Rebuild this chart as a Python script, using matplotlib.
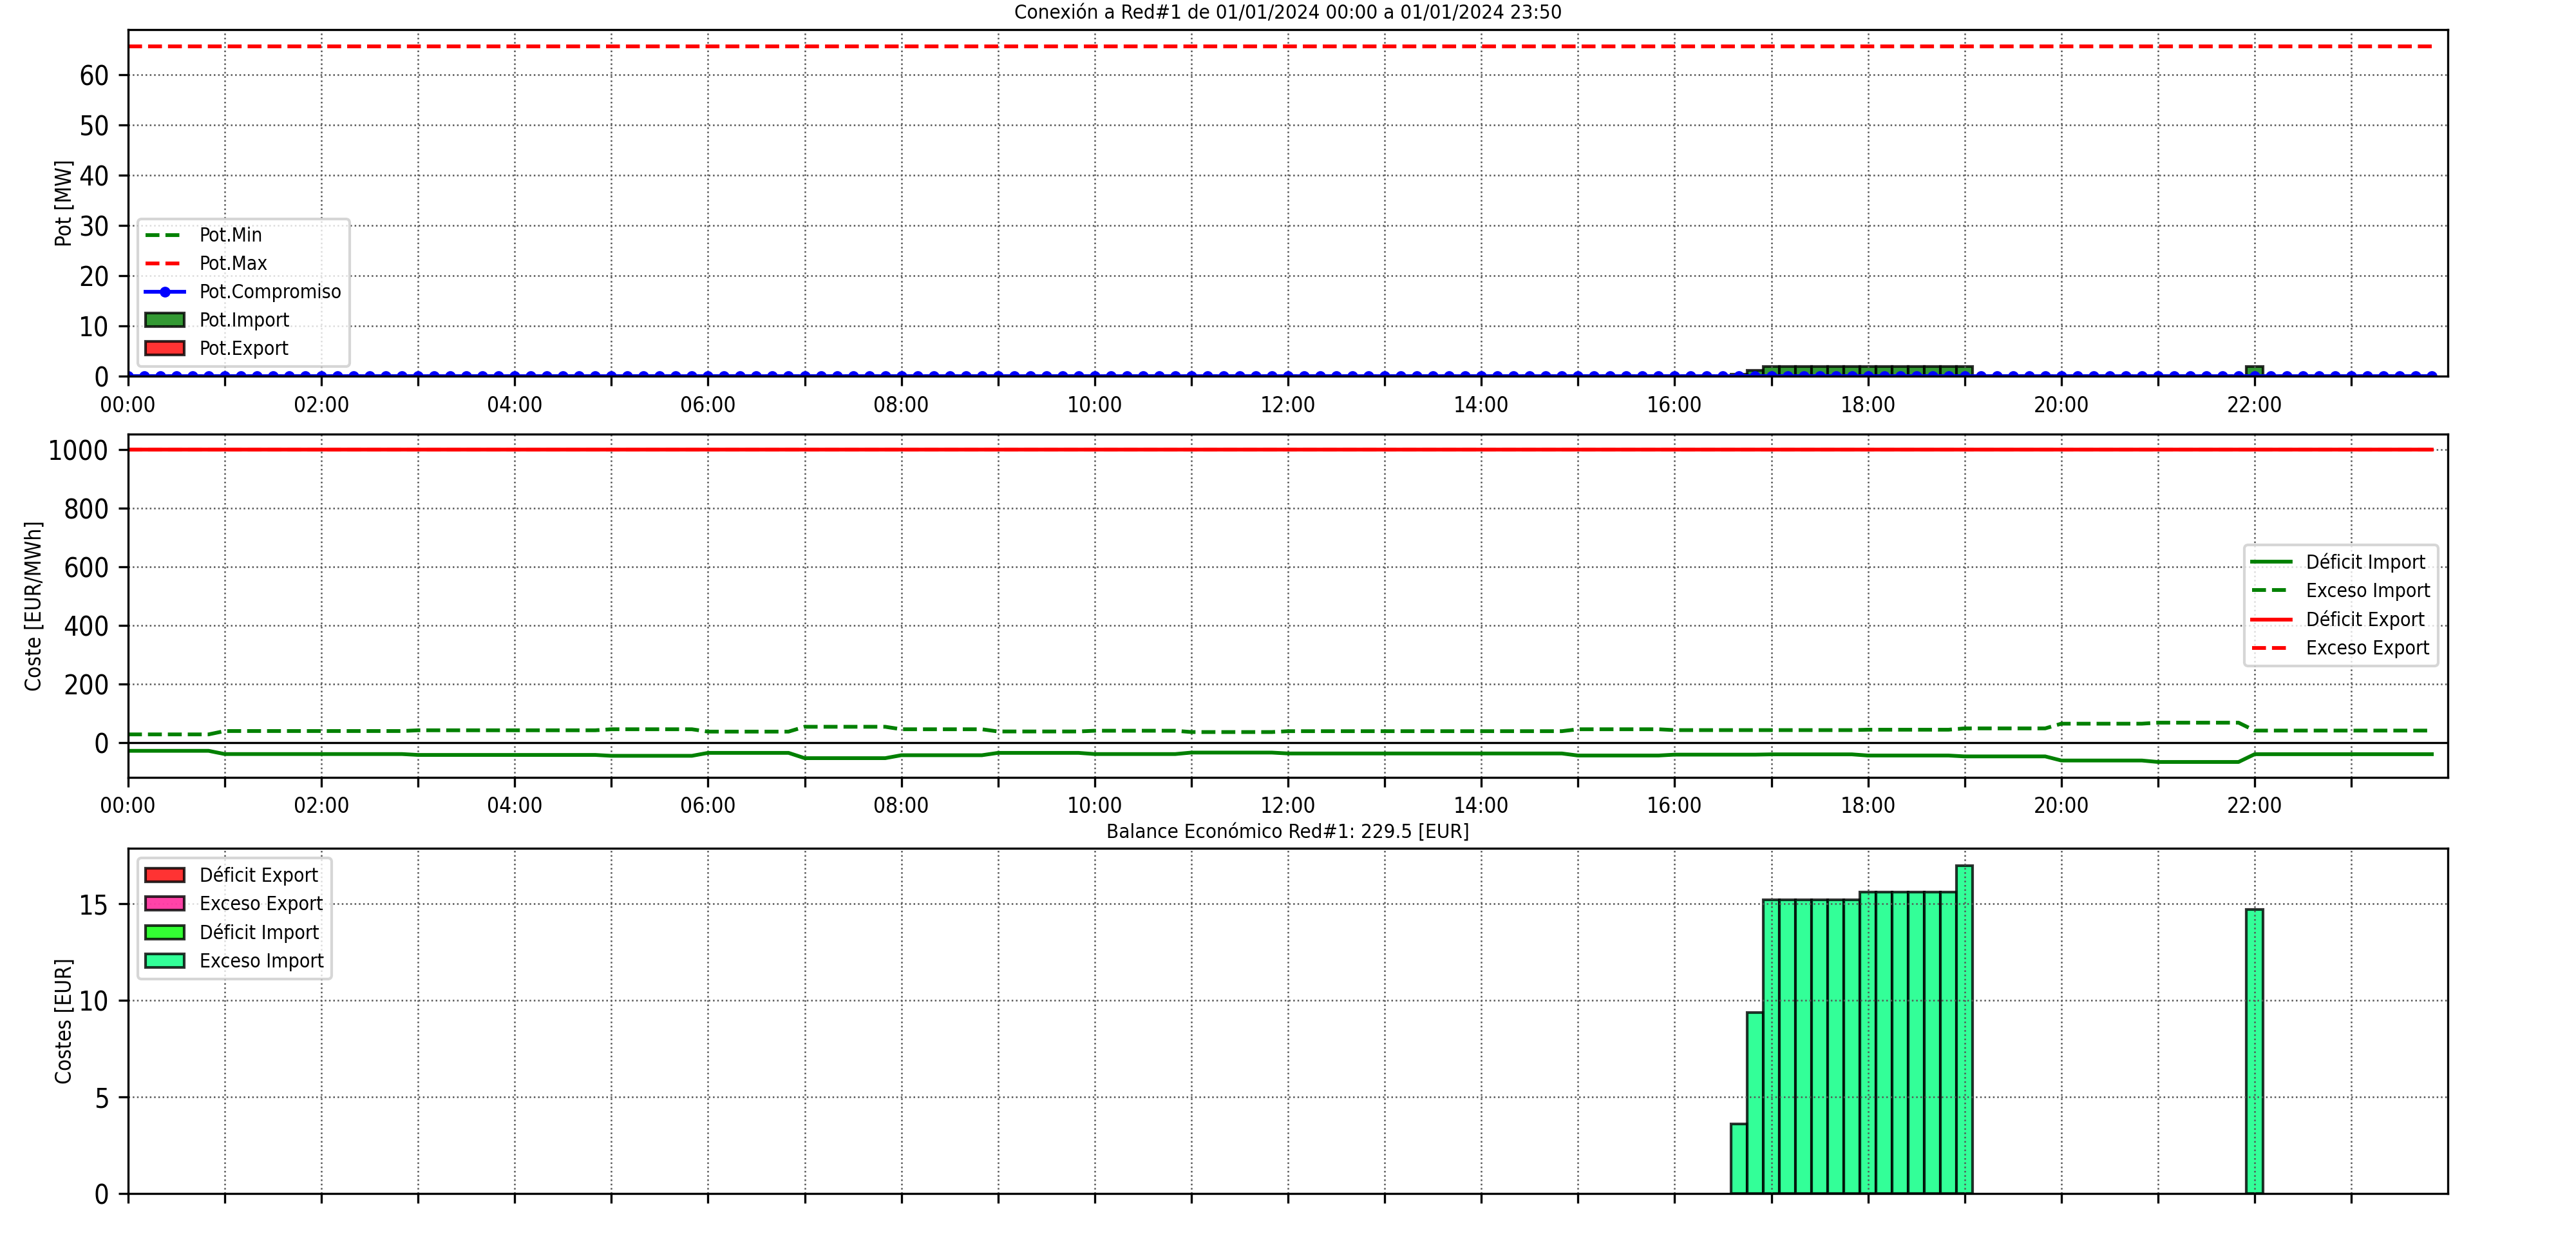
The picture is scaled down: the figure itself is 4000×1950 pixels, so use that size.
import numpy as np
import pandas as pd
import matplotlib
matplotlib.use('Agg')
import matplotlib.pyplot as plt
import matplotlib.dates as mdates
from matplotlib.patches import Patch
from matplotlib.ticker import MultipleLocator, FixedLocator

plt.rcParams['font.family'] = 'DejaVu Sans'
plt.rcParams['font.stretch'] = 'condensed'

# 10 minute steps for the whole day
day = '2024-01-01'
times = pd.date_range(day + ' 00:00', day + ' 23:50', freq='10min')

# --- power (MW) ---
pot_min_val = 0.0
pot_max_val = 65.7
pot_compromiso_val = 0.0
pot_import_times = ['16:40', '16:50', '17:00', '17:10', '17:20', '17:30', '17:40', '17:50',
                    '18:00', '18:10', '18:20', '18:30', '18:40', '18:50', '19:00', '22:00']
pot_import_vals = [0.45, 1.2, 2.0, 2.0, 2.0, 2.0, 2.0, 2.0,
                   2.0, 2.0, 2.0, 2.0, 2.0, 2.0, 2.0, 2.0]
pot_export_times = []
pot_export_vals = []

# --- hourly prices (EUR/MWh) ---
deficit_import_h = [-27, -38, -38, -41, -41, -44, -34, -52, -42, -34, -38, -33,
                    -36, -36, -36, -43, -40, -39, -43, -46, -60, -65, -38.5, -38.5]
exceso_import_h = [29, 40.5, 40.5, 43, 43, 46.5, 38.5, 55, 46.5, 39, 41.5, 37,
                   40, 40, 40, 46.5, 43.6, 43.6, 45, 49.5, 65.5, 69, 42, 42]
deficit_export_h = [1000] * 24
exceso_export_h = [1000] * 24

# --- costs (EUR) ---
coste_times = ['16:40', '16:50', '17:00', '17:10', '17:20', '17:30', '17:40', '17:50',
               '18:00', '18:10', '18:20', '18:30', '18:40', '18:50', '19:00', '22:00']
exceso_import_coste = [3.6, 9.35, 15.2, 15.2, 15.2, 15.2, 15.2, 15.2,
                       15.6, 15.6, 15.6, 15.6, 15.6, 15.6, 16.95, 14.7]
balance = 229.5

hour_ticks = ['%02d:00' % h for h in range(24)]


def to_dt(lst):
    return pd.to_datetime([day + ' ' + t for t in lst])


def hourly_to_10min(vals):
    # each hourly price holds for the six 10-minute steps of that hour
    return np.repeat(np.array(vals, dtype=float), 6)


width = 1.0 / 144  # 10 minutes in days
x0 = pd.Timestamp(day + ' 00:00')
x1 = x0 + pd.Timedelta(days=1)
major_pos = mdates.date2num(to_dt(hour_ticks[::2]))
minor_pos = mdates.date2num(to_dt(hour_ticks))


def format_time_axis(ax, labels=True):
    ax.set_xlim(x0, x1)
    ax.xaxis.set_major_locator(FixedLocator(major_pos))
    ax.xaxis.set_minor_locator(FixedLocator(minor_pos))
    ax.xaxis.set_major_formatter(mdates.DateFormatter('%H:%M'))
    ax.tick_params(axis='x', which='both', length=3.5, width=0.8, labelsize=8, labelbottom=labels)
    ax.tick_params(axis='y', labelsize=10)
    ax.grid(True, which='both', linestyle=':', color='#555555', linewidth=0.6)


def bar_patch(color, label):
    return Patch(facecolor=color, edgecolor='black', alpha=0.8, label=label)


fig = plt.figure(figsize=(4000 / 300, 1950 / 300), dpi=300)

# top panel: power
ax1 = fig.add_axes([0.0497, 0.7003, 0.9006, 0.2761])
l1, = ax1.plot(times, np.full(len(times), pot_min_val), color='green', linestyle='--', linewidth=1.4, label='Pot.Min')
l2, = ax1.plot(times, np.full(len(times), pot_max_val), color='red', linestyle='--', linewidth=1.4, label='Pot.Max')
l3, = ax1.plot(times, np.full(len(times), pot_compromiso_val), color='blue', marker='o', markersize=3,
               linewidth=1.4, label='Pot.Compromiso')
ax1.bar(to_dt(pot_import_times), pot_import_vals, width=width, color='green', alpha=0.8, edgecolor='black')
if pot_export_vals:
    ax1.bar(to_dt(pot_export_times), pot_export_vals, width=width, color='red', alpha=0.8, edgecolor='black')
ax1.set_ylim(0, 69)
ax1.yaxis.set_major_locator(MultipleLocator(10))
ax1.set_ylabel('Pot [MW]', fontsize=8, labelpad=1)
ax1.set_title('Conexión a Red#1 de 01/01/2024 00:00 a 01/01/2024 23:50', fontsize=7.5, pad=4)
format_time_axis(ax1)
ax1.legend(handles=[l1, l2, l3, bar_patch('green', 'Pot.Import'), bar_patch('red', 'Pot.Export')],
           loc='lower left', fontsize=7.2)

# middle panel: prices
ax2 = fig.add_axes([0.0497, 0.3809, 0.9006, 0.2736])
ax2.plot(times, hourly_to_10min(deficit_import_h), color='green', linestyle='-', linewidth=1.4, label='Déficit Import')
ax2.plot(times, hourly_to_10min(exceso_import_h), color='green', linestyle='--', linewidth=1.4, label='Exceso Import')
ax2.plot(times, hourly_to_10min(deficit_export_h), color='red', linestyle='-', linewidth=1.4, label='Déficit Export')
ax2.plot(times, hourly_to_10min(exceso_export_h), color='red', linestyle='--', linewidth=1.4, label='Exceso Export')
ax2.axhline(0, color='black', linewidth=0.8)
ax2.set_ylabel('Coste [EUR/MWh]', fontsize=8, labelpad=1)
format_time_axis(ax2)
ax2.legend(loc='center right', fontsize=7.2)

# bottom panel: costs
ax3 = fig.add_axes([0.0497, 0.0497, 0.9006, 0.2749])
ax3.bar(to_dt(coste_times), exceso_import_coste, width=width, color='springgreen', alpha=0.8, edgecolor='black')
ax3.set_ylim(0, 17.85)
ax3.set_ylabel('Costes [EUR]', fontsize=8, labelpad=1)
ax3.set_title(f'Balance Económico Red#1: {balance} [EUR]', fontsize=7.5, pad=4)
format_time_axis(ax3, labels=False)
ax3.legend(handles=[bar_patch('red', 'Déficit Export'), bar_patch('deeppink', 'Exceso Export'),
                    bar_patch('lime', 'Déficit Import'), bar_patch('springgreen', 'Exceso Import')],
           loc='upper left', fontsize=7.2)

fig.savefig('out.png', dpi=300)
